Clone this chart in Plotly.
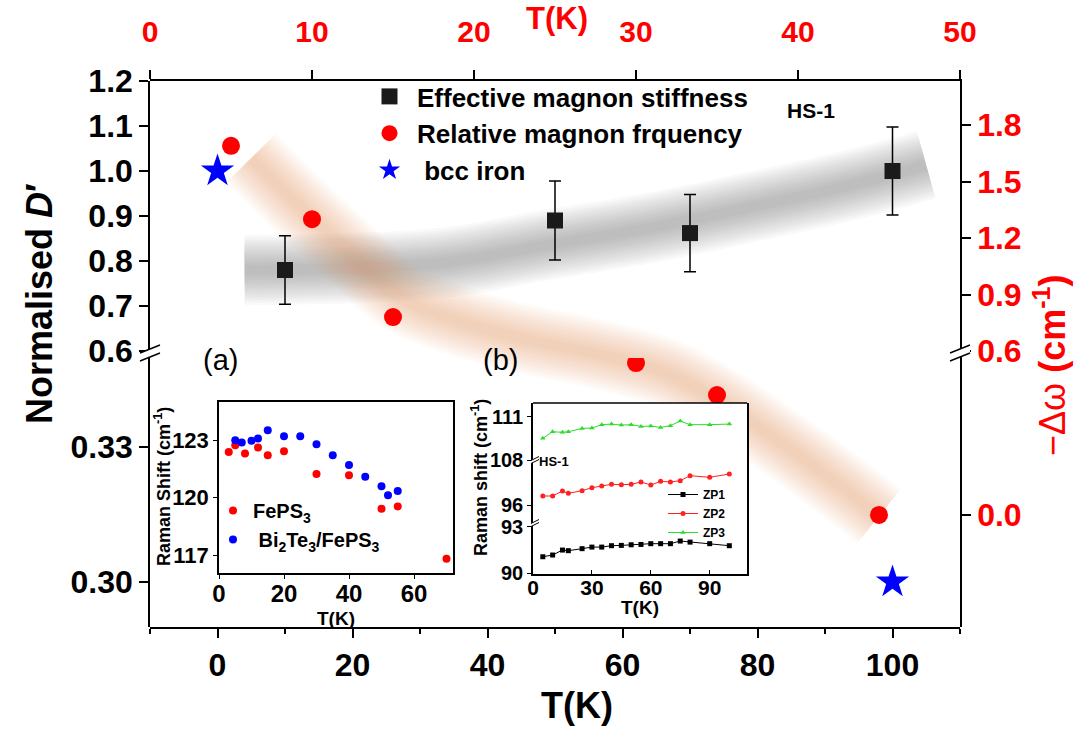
import plotly.graph_objects as go

W, H = 1076, 729
FONT = "Liberation Sans, Arial, Helvetica, sans-serif"

# ---------------- main plot data ----------------
stiff_T = [10, 50, 70, 100]
stiff_D = [0.78, 0.89, 0.862, 1.0]
stiff_err = [0.076, 0.088, 0.086, 0.098]

freq_T = [5, 10, 15, 30, 35, 45]
freq_dw = [1.69, 1.30, 0.78, 0.556, 0.439, 0.0]

iron_T = [0, 100]
iron_D = [1.0, 0.30]

# guide-to-the-eye bands (T on bottom axis, fraction of plot height)
gray_band_T = [4, 20, 34, 49, 64, 79, 94, 105]
gray_band_h = [0.654, 0.657, 0.668, 0.700, 0.731, 0.769, 0.810, 0.846]
orange_band_T = [5, 12, 20, 27, 36, 46, 57, 66, 74, 85, 94, 98]
orange_band_h = [0.859, 0.773, 0.681, 0.604, 0.559, 0.526, 0.498, 0.467, 0.416, 0.324, 0.242, 0.203]

# ---------------- inset (a) ----------------
fe_T = [3, 5, 8, 12, 15, 20, 30, 40, 50, 55, 70]
fe_shift = [122.39, 122.74, 122.31, 122.62, 122.22, 122.43, 121.23, 121.17, 119.42, 119.54, 116.81]
bi_T = [5, 7, 10, 12, 15, 20, 25, 30, 35, 40, 45, 50, 52, 55]
bi_shift = [123.0, 122.88, 122.97, 123.09, 123.52, 123.21, 123.21, 122.79, 122.22, 121.7, 121.09, 120.6, 120.12, 120.35]
inset_a_err = 0.2

# ---------------- inset (b) ----------------
zp_T = [5, 10, 15, 18, 25, 30, 35, 40, 45, 50, 55, 60, 65, 70, 75, 80, 90, 100]
zp1 = [91.07, 91.18, 91.50, 91.46, 91.59, 91.69, 91.69, 91.78, 91.80, 91.84, 91.86, 91.91, 91.91, 91.91, 92.08, 92.01, 91.91, 91.78]
zp2 = [98.40, 98.40, 99.73, 99.11, 99.82, 100.62, 101.07, 101.51, 101.42, 101.51, 102.13, 101.33, 102.31, 102.13, 102.49, 103.82, 103.38, 104.27]
zp3 = [109.50, 109.96, 109.92, 109.96, 110.19, 110.22, 110.45, 110.49, 110.42, 110.45, 110.33, 110.35, 110.26, 110.38, 110.70, 110.45, 110.45, 110.49]
zp1_err, zp2_err, zp3_err = 0.39, 1.8, 0.5

# ---------------- axis ranges ----------------
BOTTOM_RANGE = [-10, 110]
TOP_RANGE = [0, 50]
LEFT_UP = [0.5844, 1.2]
LEFT_LO = [0.29, 0.3498]
RIGHT_UP = [0.5628, 2.034]
RIGHT_LO = [-0.41, 0.5744]
LEFT_BREAK = 0.45
RIGHT_BREAK = 0.575

A_X = [0, 72]
A_Y = [116.06, 125.0]
B_X = [0, 109]
B_Y_LO = [89.96, 93.24]
B_Y_MID = [91.2, 108.0]
B_Y_UP = [108.0, 111.95]

# ---------------- layout geometry (pixels) ----------------
def fx(x):
    return x / W

def fy(y):
    return 1 - y / H

M_L, M_R, M_T, M_B, M_BRK = 150, 960, 81, 627, 358
main_x = [fx(M_L), fx(M_R)]
dom_up = [fy(M_BRK), fy(M_T)]
dom_lo = [fy(M_B), fy(M_BRK)]
dom_full = [fy(M_B), fy(M_T)]

A_L, A_R, A_T, A_B = 219, 453, 402, 573
B_L, B_R, B_T, B_B, B_BRK1, B_BRK2 = 533, 747, 403, 574, 523, 460


def split(xs, ys, thr):
    up = [(x, y) for x, y in zip(xs, ys) if y >= thr]
    lo = [(x, y) for x, y in zip(xs, ys) if y < thr]
    return ([p[0] for p in up], [p[1] for p in up]), ([p[0] for p in lo], [p[1] for p in lo])


def panel_bg(xa, ya, xr, yr):
    # white background of an inset panel, spanning its axis ranges
    return go.Scatter(x=[xr[0], xr[1], xr[1], xr[0], xr[0]], y=[yr[0], yr[0], yr[1], yr[1], yr[0]],
                      mode="lines", fill="toself", fillcolor="white", line=dict(width=0),
                      xaxis=xa, yaxis=ya, showlegend=False, hoverinfo="skip")


fig = go.Figure()

# ---- bands (guide subplot x/y, drawn first) ----
for T, h, col in [(gray_band_T, gray_band_h, "rgba(105,105,105,0.042)"),
                  (orange_band_T, orange_band_h, "rgba(240,150,95,0.034)")]:
    for wdt in range(70, 6, -5):
        fig.add_trace(go.Scatter(x=T, y=h, mode="lines", xaxis="x", yaxis="y",
                                 line=dict(color=col, width=wdt, shape="spline", smoothing=1.0),
                                 showlegend=False, hoverinfo="skip"))

# ---- main data ----
fig.add_trace(go.Scatter(x=stiff_T, y=stiff_D, mode="markers", xaxis="x", yaxis="y3",
                         name="Effective magnon stiffness",
                         marker=dict(symbol="square", size=16, color="#1a1a1a"),
                         error_y=dict(type="data", array=stiff_err, color="black", thickness=1.5, width=6),
                         legend="legend"))

(fu_x, fu_y), (fl_x, fl_y) = split(freq_T, freq_dw, RIGHT_BREAK)
fig.add_trace(go.Scatter(x=fu_x, y=fu_y, mode="markers", xaxis="x2", yaxis="y4",
                         name="Relative magnon frquency", legendgroup="freq",
                         marker=dict(symbol="circle", size=18, color="#ff0000"), legend="legend"))
fig.add_trace(go.Scatter(x=fl_x, y=fl_y, mode="markers", xaxis="x2", yaxis="y5",
                         name="Relative magnon frquency", legendgroup="freq", showlegend=False,
                         marker=dict(symbol="circle", size=18, color="#ff0000"), legend="legend"))

(iu_x, iu_y), (il_x, il_y) = split(iron_T, iron_D, LEFT_BREAK)
fig.add_trace(go.Scatter(x=iu_x, y=iu_y, mode="markers", xaxis="x", yaxis="y3",
                         name="\u00a0bcc iron", legendgroup="iron",
                         marker=dict(symbol="star", size=25, color="#0000ff"), legend="legend"))
fig.add_trace(go.Scatter(x=il_x, y=il_y, mode="markers", xaxis="x", yaxis="y2",
                         name="\u00a0bcc iron", legendgroup="iron", showlegend=False,
                         marker=dict(symbol="star", size=25, color="#0000ff"), legend="legend"))

# ---- inset (a) ----
fig.add_trace(panel_bg("x3", "y6", A_X, A_Y))
fig.add_trace(go.Scatter(x=fe_T, y=fe_shift, mode="markers", xaxis="x3", yaxis="y6",
                         name="FePS<sub>3</sub>",
                         marker=dict(symbol="circle", size=8, color="#ff0000"),
                         error_y=dict(type="data", value=inset_a_err, color="rgba(255,0,0,0.3)", thickness=1.5, width=3),
                         legend="legend2"))
fig.add_trace(go.Scatter(x=bi_T, y=bi_shift, mode="markers", xaxis="x3", yaxis="y6",
                         name="\u00a0Bi<sub>2</sub>Te<sub>3</sub>/FePS<sub>3</sub>",
                         marker=dict(symbol="circle", size=8, color="#0000ff"),
                         error_y=dict(type="data", value=inset_a_err, color="rgba(0,0,255,0.3)", thickness=1.5, width=3),
                         legend="legend2"))

# ---- inset (b) ----
fig.add_trace(panel_bg("x4", "y7", B_X, B_Y_LO))
fig.add_trace(panel_bg("x4", "y8", B_X, B_Y_MID))
fig.add_trace(panel_bg("x4", "y9", B_X, B_Y_UP))
for ys, yax, nm, col, ecol, sym, err in [
        (zp1, "y7", "ZP1", "#000000", "rgba(0,0,0,0.3)", "square", zp1_err),
        (zp2, "y8", "ZP2", "#ff2020", "rgba(255,0,0,0.35)", "circle", zp2_err),
        (zp3, "y9", "ZP3", "#2edc2e", "rgba(0,200,0,0.35)", "triangle-up", zp3_err)]:
    fig.add_trace(go.Scatter(x=zp_T, y=ys, mode="lines+markers", xaxis="x4", yaxis=yax, name=nm,
                             line=dict(color=col, width=1),
                             marker=dict(symbol=sym, size=5, color=col),
                             error_y=dict(type="data", value=err, color=ecol, thickness=1, width=3),
                             legend="legend3"))

# ---------------- axes ----------------
tick_bold = dict(family=FONT, size=32, color="black", weight="bold")
common = dict(showgrid=False, zeroline=False, showline=True, linecolor="black", linewidth=1.5,
              ticks="outside", tickcolor="black", tickwidth=1.5, ticklen=9)

layout = dict(
    width=W, height=H, margin=dict(l=0, r=0, t=0, b=0, autoexpand=False),
    paper_bgcolor="white", plot_bgcolor="rgba(0,0,0,0)",
    font=dict(family=FONT, color="black"),
    xaxis=dict(domain=main_x, range=BOTTOM_RANGE, anchor="y", tick0=0, dtick=20,
               minor=dict(dtick=10, ticks="outside", ticklen=5, tickcolor="black", tickwidth=1.5),
               tickfont=tick_bold, **common),
    yaxis=dict(domain=dom_full, range=[0, 1], anchor="x", visible=False),
    yaxis2=dict(domain=dom_lo, range=LEFT_LO, anchor="x", tickvals=[0.30, 0.33], ticktext=["0.30", "0.33"],
                tickfont=tick_bold, **common),
    yaxis3=dict(domain=dom_up, range=LEFT_UP, anchor="x", tickvals=[0.6, 0.7, 0.8, 0.9, 1.0, 1.1, 1.2],
                tickformat=".1f", tickfont=tick_bold, **common),
    xaxis2=dict(domain=main_x, range=TOP_RANGE, anchor="y3", side="top", dtick=10, tick0=0,
                ticklabelstandoff=16,
                tickfont=dict(family=FONT, size=30, color="#ff0000", weight="bold"), **common),
    yaxis4=dict(domain=dom_up, range=RIGHT_UP, anchor="x2", side="right", tickvals=[0.6, 0.9, 1.2, 1.5, 1.8],
                tickformat=".1f", tickfont=dict(family=FONT, size=32, color="#ff0000", weight="bold"), **common),
    yaxis5=dict(domain=dom_lo, range=RIGHT_LO, anchor="x2", side="right", tickvals=[0.0],
                tickformat=".1f", tickfont=dict(family=FONT, size=32, color="#ff0000", weight="bold"), **common),
)

inset_common = dict(showgrid=False, zeroline=False, showline=True, linecolor="black", linewidth=1.5,
                    tickcolor="black", tickwidth=1.2, ticklen=4)
layout.update(
    xaxis3=dict(domain=[fx(A_L), fx(A_R)], range=A_X, anchor="y6", tickvals=[0, 20, 40, 60], mirror=True,
                ticks="outside", ticklabelstandoff=-6,
                tickfont=dict(family=FONT, size=24, weight="bold"), **inset_common),
    yaxis6=dict(domain=[fy(A_B), fy(A_T)], range=A_Y, anchor="x3", tickvals=[117, 120, 123], mirror=True,
                ticks="outside", tickfont=dict(family=FONT, size=22, weight="bold"), **inset_common),
    xaxis4=dict(domain=[fx(B_L), fx(B_R)], range=B_X, anchor="y7", tickvals=[0, 30, 60, 90],
                ticks="inside", ticklabelstandoff=-6,
                tickfont=dict(family=FONT, size=21, weight="bold"), **inset_common),
    yaxis7=dict(domain=[fy(B_B), fy(B_BRK1)], range=B_Y_LO, anchor="x4", tickvals=[90, 93], mirror=True,
                ticks="outside", tickfont=dict(family=FONT, size=20, weight="bold"), **inset_common),
    yaxis8=dict(domain=[fy(B_BRK1), fy(B_BRK2)], range=B_Y_MID, anchor="x4", tickvals=[96], mirror=True,
                ticks="outside", tickfont=dict(family=FONT, size=20, weight="bold"), **inset_common),
    yaxis9=dict(domain=[fy(B_BRK2), fy(B_T)], range=B_Y_UP, anchor="x4", tickvals=[108, 111], mirror=True,
                ticks="outside", tickfont=dict(family=FONT, size=20, weight="bold"), **inset_common),
)

layout.update(
    legend=dict(x=fx(362), y=fy(73), xanchor="left", yanchor="top", bgcolor="rgba(0,0,0,0)",
                font=dict(family=FONT, size=26, weight="bold"), itemwidth=45, tracegroupgap=0),
    legend2=dict(x=fx(213), y=fy(491), xanchor="left", yanchor="top", bgcolor="rgba(0,0,0,0)",
                 font=dict(family=FONT, size=20, weight="bold"), itemwidth=30),
    legend3=dict(x=fx(663), y=fy(480), xanchor="left", yanchor="top", bgcolor="rgba(0,0,0,0)",
                 font=dict(family=FONT, size=12, weight="bold"), itemwidth=30),
)
fig.update_layout(**layout)

# ---------------- shapes: frame pieces, break marks ----------------
shapes = []
shapes.append(dict(type="line", xref="paper", yref="paper", x0=fx(B_L), x1=fx(B_R), y0=fy(B_T), y1=fy(B_T),
                   line=dict(color="black", width=1.5), layer="above"))


def break_mark(xc, yc, half_len, rise, gap, lw):
    out = []
    x0, x1 = fx(xc - half_len), fx(xc + half_len)
    ya0, ya1 = fy(yc - gap / 2 + rise / 2), fy(yc - gap / 2 - rise / 2)
    yb0, yb1 = fy(yc + gap / 2 + rise / 2), fy(yc + gap / 2 - rise / 2)
    out.append(dict(type="path", xref="paper", yref="paper",
                    path=f"M {x0} {ya0} L {x1} {ya1} L {x1} {yb1} L {x0} {yb0} Z",
                    fillcolor="white", line=dict(width=0), layer="above"))
    out.append(dict(type="line", xref="paper", yref="paper", x0=x0, x1=x1, y0=ya0, y1=ya1,
                    line=dict(color="black", width=lw), layer="above"))
    out.append(dict(type="line", xref="paper", yref="paper", x0=x0, x1=x1, y0=yb0, y1=yb1,
                    line=dict(color="black", width=lw), layer="above"))
    return out


shapes += break_mark(M_L, 353, 10, 8, 8, 1.5)
shapes += break_mark(M_R, 353, 10, 8, 8, 1.5)
shapes += break_mark(B_L + 2, B_BRK1, 4, 4, 3, 1)
shapes += break_mark(B_L + 2, B_BRK2, 4, 4, 3, 1)
fig.update_layout(shapes=shapes)

# ---------------- annotations (titles, labels) ----------------
def ann(text, x, y, size, color="black", angle=0, weight="bold"):
    return dict(text=text, x=fx(x), y=fy(y), xref="paper", yref="paper", showarrow=False,
                xanchor="center", yanchor="middle", textangle=angle,
                font=dict(family=FONT, size=size, color=color, weight=weight))


fig.update_layout(annotations=[
    ann("T(K)", 577, 705, 36),
    ann("T(K)", 557, 19, 31, color="#ff0000"),
    ann("Normalised <i>D</i>\u2032", 40, 304, 36, angle=-90),
    ann("\u2212\u0394\u03c9 <b>(cm<sup>-1</sup>)</b>", 1050, 365, 36, color="#ff0000", angle=-90, weight="normal"),
    ann("HS-1", 811, 110, 21),
    ann("(a)", 220, 360, 29, weight="normal"),
    ann("(b)", 500, 360, 29, weight="normal"),
    ann("Raman Shift (cm<sup>-1</sup>)", 162, 487, 18, angle=-90),
    ann("T(K)", 336, 618, 19),
    ann("Raman shift (cm<sup>-1</sup>)", 479, 478, 18, angle=-90),
    ann("T(K)", 640, 607, 19),
    ann("HS-1", 554, 461, 13),
])

fig.write_html("out.html", config={"displayModeBar": False},
               post_script="document.body.style.margin='0px';document.body.style.padding='0px';"
                           "document.body.style.overflow='hidden';")
